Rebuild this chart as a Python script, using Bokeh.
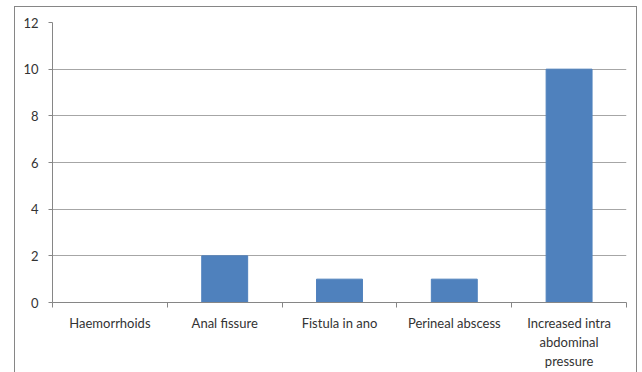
from bokeh.plotting import figure
from bokeh.models import Range1d, FixedTicker
from bokeh.embed import file_html
from bokeh.resources import INLINE
import numpy as np

categories = ["Haemorrhoids", "Anal fissure", "Fistula in ano", "Perineal abscess",
              "Increased intra\nabdominal\npressure"]
values = [0, 2, 1, 1, 10]
y_ticks = [0, 2, 4, 6, 8, 10, 12]

xpos = np.arange(len(categories)) + 0.5

p = figure(width=623, height=366, output_backend="svg", toolbar_location=None,
           x_range=Range1d(0, len(categories)), y_range=Range1d(0, 12),
           min_border_left=37, min_border_right=12, min_border_top=15, min_border_bottom=71)
p.margin = (6, 0, 0, 14)
p.styles = {"border-top": "1px solid #868686", "border-left": "1px solid #868686",
            "border-right": "1px solid #868686"}
p.outline_line_color = None
p.background_fill_color = "white"
p.border_fill_color = "white"

p.vbar(x=xpos, top=values, width=0.4, color="#4F81BD")

FONT = "Lato"
LBL = "#333333"
AX = "#868686"

p.xgrid.grid_line_color = None
p.ygrid.grid_line_color = "#A6A6A6"
p.ygrid.ticker = FixedTicker(ticks=y_ticks)

xa = p.xaxis[0]
xa.ticker = FixedTicker(ticks=list(xpos), minor_ticks=list(range(len(categories) + 1)))
xa.major_label_overrides = {float(x): c for x, c in zip(xpos, categories)}
xa.major_tick_out = 0
xa.major_tick_in = 0
xa.minor_tick_out = 5
xa.minor_tick_in = 0
xa.minor_tick_line_color = AX
xa.axis_line_color = AX
xa.major_label_standoff = 7
xa.major_label_text_font = FONT
xa.major_label_text_font_size = "13px"
xa.major_label_text_color = LBL

ya = p.yaxis[0]
ya.ticker = FixedTicker(ticks=y_ticks)
ya.major_tick_out = 4
ya.major_tick_in = 0
ya.minor_tick_line_color = None
ya.major_tick_line_color = AX
ya.axis_line_color = AX
ya.major_label_standoff = 10
ya.major_label_text_font = FONT
ya.major_label_text_font_size = "13px"
ya.major_label_text_color = LBL

open("out.html", "w").write(file_html(p, INLINE))
